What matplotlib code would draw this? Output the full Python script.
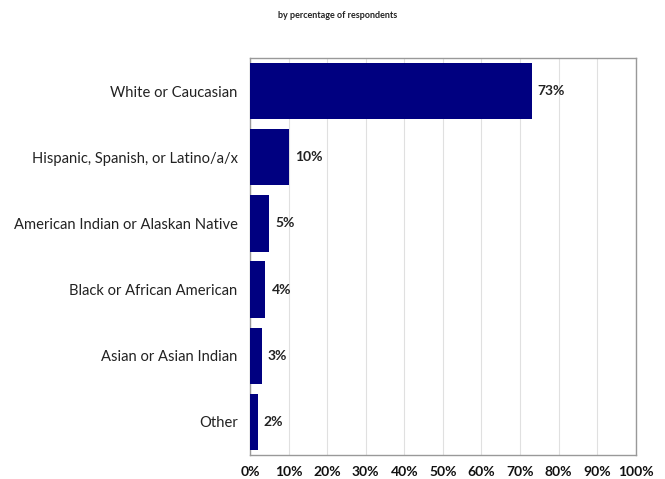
import matplotlib
matplotlib.use("Agg")
import matplotlib.pyplot as plt

categories = [
    "White or Caucasian",
    "Hispanic, Spanish, or Latino/a/x",
    "American Indian or Alaskan Native",
    "Black or African American",
    "Asian or Asian Indian",
    "Other",
]
values = [73, 10, 5, 4, 3, 2]
xticks = list(range(0, 101, 10))

plt.rcParams['font.family'] = ['Lato', 'DejaVu Sans']

fig = plt.figure(figsize=(6.65, 4.79), dpi=100)
ax = fig.add_axes([0.376, 0.050, 0.580, 0.829])

ypos = list(range(len(categories)))
ax.barh(ypos, values, height=0.85, color="#000080", zorder=3)
for y, v in zip(ypos, values):
    ax.text(v + 1.6, y, f"{v}%", va="center", ha="left", fontsize=10,
            fontweight="bold", color="#222222")

ax.set_xlim(0, 100)
ax.set_ylim(len(categories) - 0.5, -0.5)
ax.set_yticks(ypos)
ax.set_yticklabels(categories, fontsize=10.6, color="#222222")
ax.set_xticks(xticks)
ax.set_xticklabels([f"{t}%" for t in xticks], fontsize=10, fontweight="bold",
                   color="#111111")
ax.tick_params(axis="both", length=0, pad=8)
ax.tick_params(axis="y", pad=9)
ax.grid(axis="x", color="#e0e0e0", linewidth=0.8, zorder=0)
for s in ax.spines.values():
    s.set_color("#999999")
    s.set_linewidth(1)

fig.text(0.508, 0.968, "by percentage of respondents", ha="center", va="center",
         fontsize=6.5, fontweight="bold", color="#222222")

fig.savefig("out.png", dpi=100, facecolor="white")
